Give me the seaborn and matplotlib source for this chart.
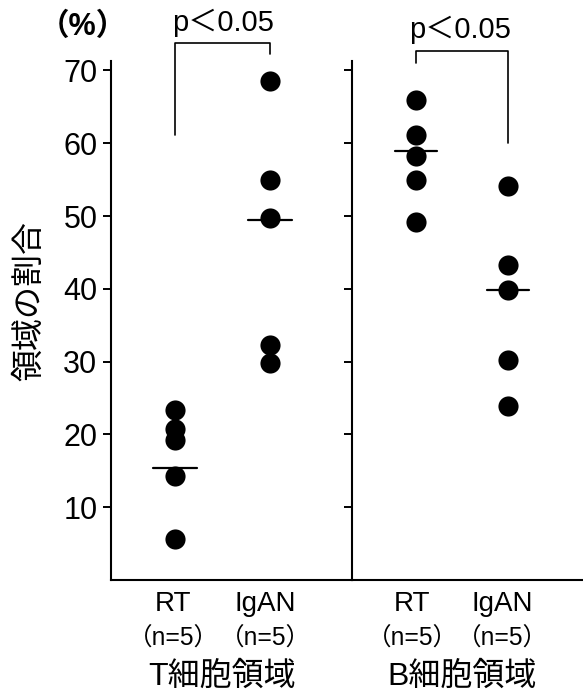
import pandas as pd
import numpy as np
import matplotlib
matplotlib.use("Agg")
import matplotlib.pyplot as plt
import matplotlib.transforms as mtransforms
import seaborn as sns

# values (%)
t_rt = [23.3, 20.8, 19.3, 14.3, 5.7]
t_igan = [68.6, 55.0, 49.7, 32.3, 29.8]
b_rt = [65.9, 61.2, 58.3, 55.0, 49.2]
b_igan = [54.1, 43.3, 39.8, 30.2, 23.9]
t_median = [15.4, 49.5]
b_median = [59.0, 39.8]
groups = ["RT", "IgAN"]
n_labels = ["（n=5）", "（n=5）"]
panel_titles = ["T細胞領域", "B細胞領域"]
yticks = [10, 20, 30, 40, 50, 60, 70]

df_t = pd.DataFrame({"group": ["RT"] * 5 + ["IgAN"] * 5, "value": t_rt + t_igan})
df_b = pd.DataFrame({"group": ["RT"] * 5 + ["IgAN"] * 5, "value": b_rt + b_igan})

sns.set_style("ticks", {"axes.edgecolor": "black", "text.color": "black",
                        "axes.labelcolor": "black", "xtick.color": "black",
                        "ytick.color": "black"})
plt.rcParams["font.family"] = ["Liberation Sans", "Noto Sans CJK JP", "DejaVu Sans"]

fig = plt.figure(figsize=(5.83, 6.98), dpi=100)
ax1 = fig.add_axes([111/583, 118/698, 241/583, 519/698])
ax2 = fig.add_axes([352/583, 118/698, 231/583, 519/698])

# label offsets (labels sit a little left of the dot columns in the original)
label_shift = [[-0.02, -0.05], [-0.04, -0.06]]

panels = [(ax1, df_t, t_median, (-0.674, 1.863)),
          (ax2, df_b, b_median, (-0.696, 1.815))]
for i, (ax, d, med, xl) in enumerate(panels):
    sns.stripplot(data=d, x="group", y="value", order=groups, jitter=False,
                  color="black", size=14.5, linewidth=0, ax=ax, zorder=3)
    for j, m in enumerate(med):
        ax.plot([j - 0.23, j + 0.23], [m, m], color="black", lw=1.6, zorder=4)
    ax.set_xlim(*xl)
    ax.set_ylim(0, 71.3)
    ax.set_yticks(yticks)
    ax.set_xticks([0, 1])
    ax.set_xticklabels([])
    ax.tick_params(axis="x", length=0)
    ax.tick_params(axis="y", direction="out", length=5.8, width=1.4, labelsize=22, pad=4)
    for s in ["top", "right"]:
        ax.spines[s].set_visible(False)
    ax.spines["left"].set_linewidth(1.5)
    ax.spines["bottom"].set_linewidth(1.5)
    ax.set_xlabel("")
    ax.set_ylabel("")
    tr = mtransforms.blended_transform_factory(ax.transData, fig.transFigure)
    for j, g in enumerate(groups):
        x = j + label_shift[i][j]
        ax.text(x, 1 - 604/698, g, transform=tr, ha="center", va="center", fontsize=20)
        ax.text(x, 1 - 638/698, n_labels[j], transform=tr, ha="center", va="center",
                fontsize=17.7)
    ax.text(0.5, 1 - 677/698, panel_titles[i], transform=tr, ha="center",
            va="center", fontsize=23)

ax2.set_yticklabels([])
ax1.set_ylabel("領域の割合", fontsize=23)
ax1.yaxis.set_label_coords(-0.274, 0.5376)

# significance brackets
ax1.plot([0, 0, 1, 1], [61.1, 73.8, 73.8, 72.2], color="black", lw=1.2, clip_on=False)
ax1.text(0.5, 76.5, "p＜0.05", ha="center", va="center", fontsize=21)
ax2.plot([0, 0, 1, 1], [71.0, 72.7, 72.7, 60.0], color="black", lw=1.2, clip_on=False)
ax2.text(0.48, 75.6, "p＜0.05", ha="center", va="center", fontsize=21)

fig.text(83/583, 1 - 27/698, "（%）", ha="center", va="center", fontsize=22,
         fontweight="bold")

fig.savefig("out.png", dpi=100)
